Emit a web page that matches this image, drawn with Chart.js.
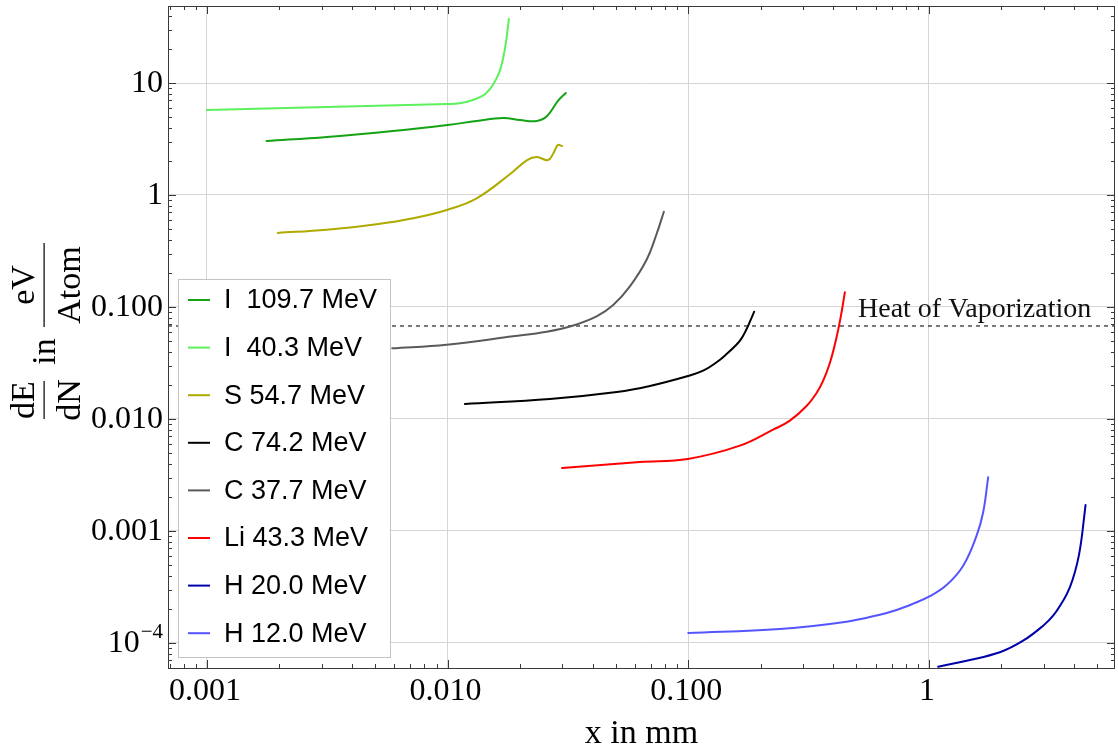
<!DOCTYPE html>
<html>
<head>
<meta charset="utf-8">
<script src="https://cdn.jsdelivr.net/npm/chart.js@4/dist/chart.umd.min.js"></script>
<style>
html,body{margin:0;padding:0;background:#fff;}
canvas{display:block;}
</style>
</head>
<body>
<canvas id="c" width="1118" height="751"></canvas>
<script>
// ---- data ----
const xTickValues = [0.001, 0.01, 0.1, 1];
const xTickLabels = ['0.001', '0.010', '0.100', '1'];
const yTickValues = [1e-4, 1e-3, 1e-2, 0.1, 1, 10];
const yTickLabels = ['10^-4', '0.001', '0.010', '0.100', '1', '10'];

const seriesLabels = ['I  109.7 MeV', 'I  40.3 MeV', 'S 54.7 MeV', 'C 74.2 MeV', 'C 37.7 MeV', 'Li 43.3 MeV', 'H 20.0 MeV', 'H 12.0 MeV'];
const seriesColors = ['#14a314', '#5cf05c', '#aeaa00', '#000000', '#5a5a5a', '#ff0000', '#0000aa', '#5555ff'];

const xI109 = [0.00177, 0.00315, 0.00593, 0.0100, 0.0132, 0.0170, 0.0200, 0.0235, 0.0259, 0.0287, 0.0310];
const yI109 = [3.03, 3.30, 3.73, 4.22, 4.58, 4.87, 4.67, 4.58, 5.07, 6.90, 8.15];

const xI40 = [0.00100, 0.00315, 0.0100, 0.01124, 0.01274, 0.01402, 0.01474, 0.01542, 0.01649, 0.0173, 0.01798];
const yI40 = [5.74, 6.11, 6.49, 6.60, 7.05, 7.70, 8.48, 9.6, 12.9, 20.1, 37.3];

const xS55 = [0.00197, 0.00314, 0.00507, 0.00720, 0.0100, 0.0132, 0.0182, 0.0214, 0.0235, 0.0261, 0.0274, 0.0287, 0.0299];
const yS55 = [0.458, 0.490, 0.548, 0.620, 0.739, 0.934, 1.54, 2.05, 2.18, 2.05, 2.32, 2.79, 2.74];

const xC74 = [0.0118, 0.0266, 0.0505, 0.0693, 0.0989, 0.1153, 0.1311, 0.1443, 0.1588, 0.1665, 0.1747, 0.1803, 0.1879];
const yC74 = [0.01361, 0.01510, 0.01742, 0.01971, 0.02405, 0.02699, 0.03208, 0.03805, 0.04625, 0.0525, 0.0636, 0.0739, 0.0908];

const xC38 = [0.005886, 0.00990, 0.01873, 0.02578, 0.03275, 0.04159, 0.04875, 0.0572, 0.06711, 0.07385, 0.07917];
const yC38 = [0.04278, 0.04606, 0.05474, 0.06016, 0.06766, 0.0826, 0.1042, 0.1530, 0.2645, 0.4485, 0.7094];

const xLi43 = [0.0299, 0.0630, 0.0996, 0.1639, 0.2252, 0.2643, 0.3101, 0.3412, 0.3636, 0.3875, 0.4131, 0.4334, 0.4472];
const yLi43 = [0.00365, 0.00413, 0.00440, 0.00578, 0.00803, 0.00966, 0.01306, 0.01706, 0.02198, 0.03162, 0.0536, 0.0897, 0.1353];

const xH20 = [1.092, 1.433, 1.970, 2.462, 2.982, 3.281, 3.611, 3.850, 4.039, 4.196, 4.305, 4.388, 4.473];
const yH20 = [6.14e-5, 6.95e-5, 8.26e-5, 1.048e-4, 1.427e-4, 1.752e-4, 2.386e-4, 3.143e-4, 4.277e-4, 6.02e-4, 8.49e-4, 1.196e-3, 1.706e-3];

const xH12 = [0.100, 0.2402, 0.4546, 0.6252, 0.7334, 0.8599, 1.000, 1.1833, 1.3874, 1.5772, 1.6801, 1.7620];
const yH12 = [1.227e-4, 1.333e-4, 1.549e-4, 1.789e-4, 1.971e-4, 2.243e-4, 2.591e-4, 3.294e-4, 4.901e-4, 9.08e-4, 1.469e-3, 3.016e-3];

const heatOfVaporization = 0.0677;
const heatLabel = 'Heat of Vaporization';

const xMin = 0.000689, xMax = 5.93;
const yMin = 5.98e-5, yMax = 48.7;

const xTitle = 'x in mm';

// ---- build ----
const seriesX = [xI109, xI40, xS55, xC74, xC38, xLi43, xH20, xH12];
const seriesY = [yI109, yI40, yS55, yC74, yC38, yLi43, yH20, yH12];
const zip = (xs, ys) => xs.map((x, i) => ({x: x, y: ys[i]}));

const datasets = seriesLabels.map((lab, i) => ({
  label: lab,
  data: zip(seriesX[i], seriesY[i]),
  borderColor: seriesColors[i],
  backgroundColor: seriesColors[i],
  borderWidth: 2,
  pointRadius: 0,
  tension: 0.4,
  borderCapStyle: 'round',
  borderJoinStyle: 'round',
  fill: false
}));
datasets.push({
  label: 'heat',
  data: [{x: xMin, y: heatOfVaporization}, {x: xMax, y: heatOfVaporization}],
  borderColor: '#222222',
  borderWidth: 1.2,
  borderDash: [4, 4],
  pointRadius: 0,
  fill: false
});

const SERIF = '"Liberation Serif", "Times New Roman", serif';
const SANS = '"Liberation Sans", Arial, sans-serif';

const decorPlugin = {
  id: 'decor',
  afterDatasetsDraw(chart) {
    const ctx = chart.ctx;
    const lx = 178.5, ly = 279.5, lw = 212, lh = 378;
    ctx.save();
    ctx.fillStyle = '#ffffff';
    ctx.fillRect(lx, ly, lw, lh);
    ctx.strokeStyle = '#c4c4c4';
    ctx.lineWidth = 1;
    ctx.strokeRect(lx, ly, lw, lh);
    ctx.font = '27px ' + SANS;
    ctx.textBaseline = 'middle';
    ctx.textAlign = 'left';
    seriesLabels.forEach((lab, i) => {
      const yy = 300 + i * 47.6;
      ctx.strokeStyle = seriesColors[i];
      ctx.lineWidth = 2;
      ctx.beginPath();
      ctx.moveTo(188, yy);
      ctx.lineTo(210, yy);
      ctx.stroke();
      ctx.fillStyle = '#000';
      ctx.fillText(lab, 224, yy + 1);
    });
    ctx.restore();
  },
  afterDraw(chart) {
    const ctx = chart.ctx;
    const a = chart.chartArea;
    const xs = chart.scales.x, ys = chart.scales.y;
    ctx.save();
    ctx.strokeStyle = '#3a3a3a';
    ctx.lineWidth = 1;
    ctx.strokeRect(Math.round(a.left) + 0.5, Math.round(a.top) + 0.5, Math.round(a.right - a.left) - 1, Math.round(a.bottom - a.top));
    ctx.beginPath();
    for (let d = -5; d <= 2; d++) {
      for (let m = 1; m <= 9; m++) {
        const v = m * Math.pow(10, d);
        const len = m === 1 ? 8 : 4;
        if (v >= xMin && v <= xMax) {
          const px = Math.round(xs.getPixelForValue(v)) + 0.5;
          ctx.moveTo(px, a.bottom); ctx.lineTo(px, a.bottom - len);
          ctx.moveTo(px, a.top); ctx.lineTo(px, a.top + len);
        }
        if (v >= yMin && v <= yMax) {
          const py = Math.round(ys.getPixelForValue(v)) + 0.5;
          ctx.moveTo(a.left, py); ctx.lineTo(a.left + len, py);
          ctx.moveTo(a.right, py); ctx.lineTo(a.right - len, py);
        }
      }
    }
    ctx.stroke();
    ctx.fillStyle = '#000';
    ctx.font = '32px ' + SERIF;
    ctx.textAlign = 'center';
    ctx.textBaseline = 'alphabetic';
    xTickValues.forEach((v, i) => {
      ctx.fillText(xTickLabels[i], xs.getPixelForValue(v) - 2, 700);
    });
    ctx.textBaseline = 'middle';
    yTickValues.forEach((v, i) => {
      const py = ys.getPixelForValue(v);
      const lab = yTickLabels[i];
      if (lab.indexOf('^') >= 0) {
        const parts = lab.split('^');
        const sup = parts[1].replace('-', '\u2212');
        ctx.font = '21px ' + SERIF;
        ctx.textAlign = 'right';
        const sw = ctx.measureText(sup).width;
        ctx.fillText(sup, 163, py - 11);
        ctx.font = '32px ' + SERIF;
        ctx.fillText(parts[0], 163 - sw - 1, py + 1);
      } else {
        ctx.font = '32px ' + SERIF;
        ctx.textAlign = 'right';
        ctx.fillText(lab, 163, py + 1);
      }
    });
    ctx.font = '34px ' + SERIF;
    ctx.textAlign = 'center';
    ctx.textBaseline = 'alphabetic';
    ctx.fillText(xTitle, (a.left + a.right) / 2, 743);
    ctx.font = '28px ' + SERIF;
    ctx.textAlign = 'left';
    ctx.fillStyle = '#111';
    ctx.fillText(heatLabel, 858, 317);
    ctx.save();
    ctx.translate(44, 330);
    ctx.rotate(-Math.PI / 2);
    ctx.fillStyle = '#000';
    ctx.font = '34px ' + SERIF;
    ctx.textAlign = 'center';
    ctx.textBaseline = 'alphabetic';
    ctx.fillText('dE', -70, -10);
    ctx.fillText('dN', -70, 36);
    ctx.fillRect(-89, -0.5, 38, 1.2);
    ctx.fillText('in', -21.5, 11);
    ctx.fillText('eV', 45, -10);
    ctx.fillText('Atom', 45, 36);
    ctx.fillRect(3, -0.5, 84, 1.2);
    ctx.restore();
    ctx.restore();
  }
};

new Chart(document.getElementById('c'), {
  type: 'line',
  data: {datasets: datasets},
  options: {
    responsive: false,
    devicePixelRatio: 1,
    animation: false,
    layout: {padding: {left: 0, top: 6, right: 3, bottom: 0}},
    plugins: {legend: {display: false}, tooltip: {enabled: false}},
    scales: {
      x: {
        type: 'logarithmic',
        min: xMin, max: xMax,
        afterBuildTicks: s => { s.ticks = xTickValues.map(v => ({value: v})); },
        afterFit: s => { s.height = 83; },
        ticks: {display: false},
        grid: {color: '#d6d6d6', lineWidth: 1, drawTicks: false},
        border: {display: false}
      },
      y: {
        type: 'logarithmic',
        min: yMin, max: yMax,
        afterBuildTicks: s => { s.ticks = yTickValues.map(v => ({value: v})); },
        afterFit: s => { s.width = 168; },
        ticks: {display: false},
        grid: {color: '#d6d6d6', lineWidth: 1, drawTicks: false},
        border: {display: false}
      }
    }
  },
  plugins: [decorPlugin]
});
</script>
</body>
</html>
